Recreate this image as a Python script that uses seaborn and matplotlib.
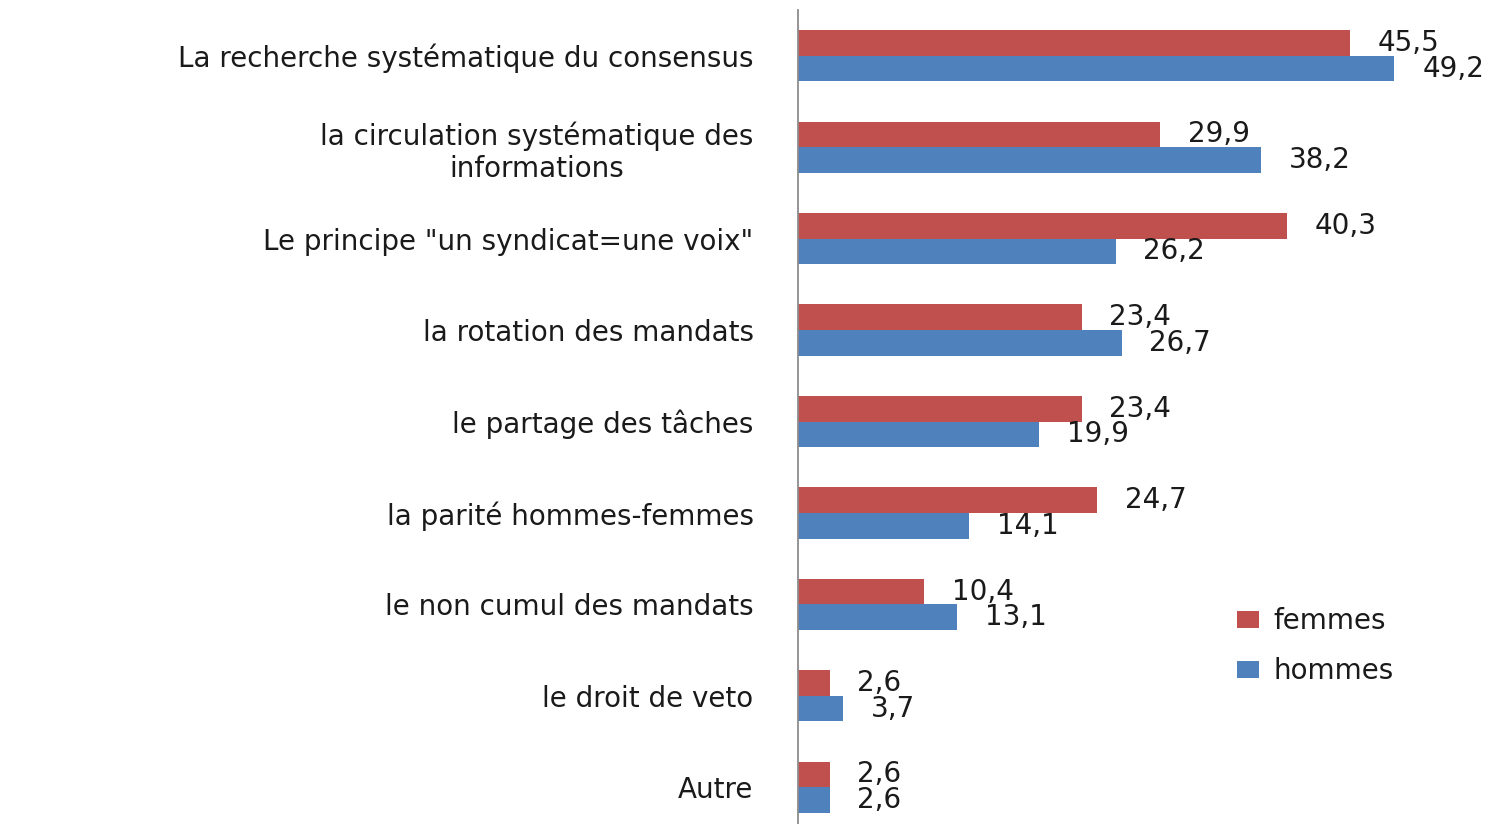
import numpy as np
import pandas as pd
import matplotlib
matplotlib.use("Agg")
import matplotlib.pyplot as plt
import seaborn as sns

# Data
categories = [
    "La recherche systématique du consensus",
    "la circulation systématique des\ninformations",
    'Le principe "un syndicat=une voix"',
    "la rotation des mandats",
    "le partage des tâches",
    "la parité hommes-femmes",
    "le non cumul des mandats",
    "le droit de veto",
    "Autre",
]
femmes = [45.5, 29.9, 40.3, 23.4, 23.4, 24.7, 10.4, 2.6, 2.6]
hommes = [49.2, 38.2, 26.2, 26.7, 19.9, 14.1, 13.1, 3.7, 2.6]
groups = ["femmes", "hommes"]

df = pd.DataFrame({
    "categorie": categories * 2,
    "valeur": femmes + hommes,
    "groupe": ["femmes"] * len(categories) + ["hommes"] * len(categories),
})

sns.set_style("white")
plt.rcParams["font.family"] = ["DejaVu Sans"]

fig = plt.figure(figsize=(15.06, 8.24), dpi=100)
ax = fig.add_axes([798 / 1506, -9 / 824, 708 / 1506, 823 / 824])

sns.barplot(data=df, y="categorie", x="valeur", hue="groupe", hue_order=groups,
            order=categories, orient="h", width=0.56,
            palette={"femmes": "#C0504D", "hommes": "#4F81BD"},
            saturation=1, linewidth=0, ax=ax, legend=True)

ax.set_xlim(0, 58.4)
ax.set_ylim(len(categories) - 0.5, -0.5)
ax.set_xlabel("")
ax.set_ylabel("")
ax.set_xticks([])
for s in ["top", "right", "bottom"]:
    ax.spines[s].set_visible(False)
ax.spines["left"].set_color("#8c8c8c")
ax.spines["left"].set_linewidth(1.3)

ax.tick_params(axis="y", length=0, pad=32, labelsize=20, labelcolor="#1a1a1a")
for lbl in ax.get_yticklabels():
    lbl.set_multialignment("center")

# Value labels with comma decimals
for cont in ax.containers:
    for bar in cont:
        w = bar.get_width()
        yc = bar.get_y() + bar.get_height() / 2
        ax.annotate(f"{w:.1f}".replace(".", ","), xy=(w, yc), xytext=(20, 0),
                    textcoords="offset points", ha="left", va="center",
                    fontsize=20, color="#1a1a1a", annotation_clip=False)

leg = ax.legend(loc="upper left", bbox_to_anchor=(1212 / 1506, 1 - 582 / 824),
                bbox_transform=fig.transFigure, frameon=False, fontsize=20,
                handlelength=0.8, handleheight=0.55, handletextpad=0.5,
                labelspacing=0.8)
for t in leg.get_texts():
    t.set_color("#1a1a1a")

fig.savefig("out.png", dpi=100)
